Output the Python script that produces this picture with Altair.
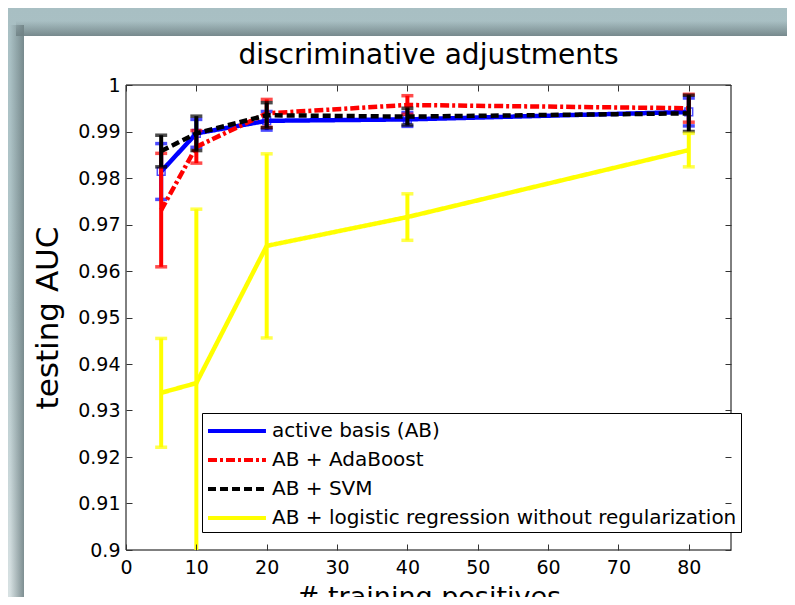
import altair as alt
import pandas as pd

# ---------------- data ----------------
series_names = [
    "active basis (AB)",
    "AB + AdaBoost",
    "AB + SVM",
    "AB + logistic regression without regularization",
]
series_colors = ["#0000ff", "#ff0000", "#000000", "#ffff00"]
x_positives = [5, 10, 20, 40, 80]

auc_ab = [0.9814, 0.9896, 0.9923, 0.9926, 0.9942]
err_ab = [0.0060, 0.0030, 0.0020, 0.0015, 0.0030]
auc_ada = [0.9731, 0.9867, 0.9939, 0.9957, 0.9950]
err_ada = [0.0122, 0.0035, 0.0030, 0.0020, 0.0030]
auc_svm = [0.9858, 0.9896, 0.9935, 0.9932, 0.9939]
err_svm = [0.0034, 0.0037, 0.0027, 0.0018, 0.0039]
auc_lr = [0.9338, 0.9359, 0.9654, 0.9716, 0.9860]
err_lr = [0.0117, 0.0374, 0.0198, 0.0050, 0.0036]

x_ticks = [0, 10, 20, 30, 40, 50, 60, 70, 80]
y_ticks = [0.9, 0.91, 0.92, 0.93, 0.94, 0.95, 0.96, 0.97, 0.98, 0.99, 1.0]

title_text = "discriminative adjustments"
x_title = "# training positives"
y_title = "testing AUC"

# ---------------- build table ----------------
rows = []
for name, means, errs in zip(series_names, [auc_ab, auc_ada, auc_svm, auc_lr],
                             [err_ab, err_ada, err_svm, err_lr]):
    for xv, m, e in zip(x_positives, means, errs):
        rows.append({"series": name, "x": xv, "auc": m, "lo": m - e, "hi": m + e})
df = pd.DataFrame(rows)

FONT = "DejaVu Sans"
W, H = 605, 465

xscale = alt.Scale(domain=[0, 86], nice=False, zero=False)
yscale = alt.Scale(domain=[0.9, 1.0], nice=False, zero=False)
color_scale = alt.Scale(domain=series_names, range=series_colors)
dash_scale = alt.Scale(domain=series_names,
                       range=[[1, 0], [9, 3, 3, 3], [8, 4], [1, 0]])

legend = alt.Legend(
    title=None, orient="none", legendX=76, legendY=328,
    symbolType="M-1,0H3.83", symbolSize=576, symbolStrokeWidth=4,
    symbolFillColor="transparent", symbolOpacity=1,
    labelFont=FONT, labelFontSize=20, labelColor="black", labelLimit=700,
    labelOffset=38, padding=4, rowPadding=5,
    strokeColor="#000000", fillColor="#ffffff", cornerRadius=0,
)

TICK_COLOR = "#333333"
x_axis_bottom = alt.Axis(
    orient="bottom", values=x_ticks, offset=-6, tickSize=6, domain=False,
    tickColor=TICK_COLOR, tickWidth=1, grid=False, zindex=1,
    labelFont=FONT, labelFontSize=19, labelColor="black", labelPadding=8,
    labelFlush=False,
    title=x_title, titleFont=FONT, titleFontSize=27, titleFontWeight="normal",
    titleColor="black", titleX=302.5, titleY=61, titleBaseline="alphabetic",
    titleAlign="center",
)
y_axis_left = alt.Axis(
    orient="left", values=y_ticks, offset=-6, tickSize=6, domain=False,
    tickColor=TICK_COLOR, tickWidth=1, grid=False, format=".2~f", zindex=1,
    labelFont=FONT, labelFontSize=19, labelColor="black", labelPadding=6,
    title=y_title, titleFont=FONT, titleFontSize=31, titleFontWeight="normal",
    titleColor="black", titleAngle=270, titleX=-75, titleY=H / 2,
    titleBaseline="alphabetic", titleAlign="center",
)
x_axis_top = alt.Axis(orient="top", values=x_ticks, offset=-6, tickSize=6,
                      domain=False, labels=False, tickColor=TICK_COLOR,
                      tickWidth=1, grid=False, title=None, zindex=1)
y_axis_right = alt.Axis(orient="right", values=y_ticks, offset=-6, tickSize=6,
                        domain=False, labels=False, tickColor=TICK_COLOR,
                        tickWidth=1, grid=False, title=None, zindex=1)

dashes = {series_names[0]: None, series_names[1]: [9, 3, 3, 3],
          series_names[2]: [8, 4], series_names[3]: None}

# ---------------- decoration (slide background) ----------------
one = pd.DataFrame({"d": [0]})
bg = alt.Chart(one).mark_rect(
    color=alt.LinearGradient(gradient="linear", x1=0, y1=0, x2=0, y2=1,
                             stops=[alt.GradientStop(offset=0, color="#a8bfc3"),
                                    alt.GradientStop(offset=0.45, color="#b4c8cb"),
                                    alt.GradientStop(offset=1, color="#e2e9ea")])
).encode(x=alt.value(-118), x2=alt.value(700), y=alt.value(-77), y2=alt.value(600))
shadow_left = alt.Chart(one).mark_rect(
    color=alt.LinearGradient(gradient="linear", x1=0, y1=0, x2=1, y2=0,
                             stops=[alt.GradientStop(offset=0, color="rgba(110,128,131,0)"),
                                    alt.GradientStop(offset=1, color="rgba(110,128,131,0.85)")])
).encode(x=alt.value(-116), x2=alt.value(-102), y=alt.value(-60), y2=alt.value(600))
shadow_top = alt.Chart(one).mark_rect(
    color=alt.LinearGradient(gradient="linear", x1=0, y1=0, x2=0, y2=1,
                             stops=[alt.GradientStop(offset=0, color="rgba(110,128,131,0)"),
                                    alt.GradientStop(offset=1, color="rgba(110,128,131,0.85)")])
).encode(x=alt.value(-110), x2=alt.value(700), y=alt.value(-64), y2=alt.value(-49))
panel = alt.Chart(one).mark_rect(color="#ffffff").encode(
    x=alt.value(-102), x2=alt.value(700), y=alt.value(-49), y2=alt.value(600))
frame = alt.Chart(one).mark_rect(filled=False, stroke="#000000", strokeWidth=1).encode(
    x=alt.value(0), x2=alt.value(W), y=alt.value(0), y2=alt.value(H))

layers = [bg, shadow_left, shadow_top, panel, frame]

# ---------------- data layers, drawn series by series ----------------
for i, name in enumerate(series_names):
    base = alt.Chart(df).transform_filter(alt.datum.series == name)
    xa = x_axis_bottom if i == 0 else (x_axis_top if i == 3 else None)
    ya = y_axis_left if i == 0 else (y_axis_right if i == 3 else None)
    line_kw = dict(strokeWidth=4.5, clip=True)
    if dashes[name]:
        line_kw["strokeDash"] = dashes[name]
    line = base.mark_line(**line_kw).encode(
        x=alt.X("x:Q", scale=xscale, axis=xa),
        y=alt.Y("auc:Q", scale=yscale, axis=ya),
        color=alt.Color("series:N", scale=color_scale, legend=legend),
        strokeDash=alt.StrokeDash("series:N", scale=dash_scale, legend=legend),
    )
    bars = base.mark_rule(strokeWidth=4, clip=True).encode(
        x=alt.X("x:Q", scale=xscale, axis=None),
        y=alt.Y("lo:Q", scale=yscale, axis=None),
        y2="hi:Q",
        color=alt.Color("series:N", scale=color_scale, legend=legend),
    )
    cap_lo = base.mark_tick(orient="horizontal", size=12, thickness=3.5, clip=True).encode(
        x=alt.X("x:Q", scale=xscale, axis=None),
        y=alt.Y("lo:Q", scale=yscale, axis=None),
        color=alt.Color("series:N", scale=color_scale, legend=legend),
    )
    cap_hi = base.mark_tick(orient="horizontal", size=12, thickness=3.5, clip=True).encode(
        x=alt.X("x:Q", scale=xscale, axis=None),
        y=alt.Y("hi:Q", scale=yscale, axis=None),
        color=alt.Color("series:N", scale=color_scale, legend=legend),
    )
    layers += [line, bars, cap_lo, cap_hi]
    if i == 0:
        marks = base.mark_point(shape="square", filled=False, size=60,
                                strokeWidth=1.5, color="#0000ff", clip=True).encode(
            x=alt.X("x:Q", scale=xscale, axis=None),
            y=alt.Y("auc:Q", scale=yscale, axis=None),
        )
        layers.append(marks)

chart = alt.layer(*layers).resolve_axis(x="independent", y="independent").properties(
    width=W, height=H,
    padding={"left": 118, "top": 77, "right": 56, "bottom": 47},
    autosize=alt.AutoSizeParams(type="none"),
    background="#a8bfc3",
    title=alt.Title(title_text, font=FONT, fontSize=28, fontWeight="normal",
                    color="black", anchor="middle", frame="group",
                    baseline="alphabetic", offset=0, dy=84),
).configure_view(stroke="#000000", strokeWidth=1)

chart.save("out.html", embed_options={"renderer": "svg", "actions": False})
